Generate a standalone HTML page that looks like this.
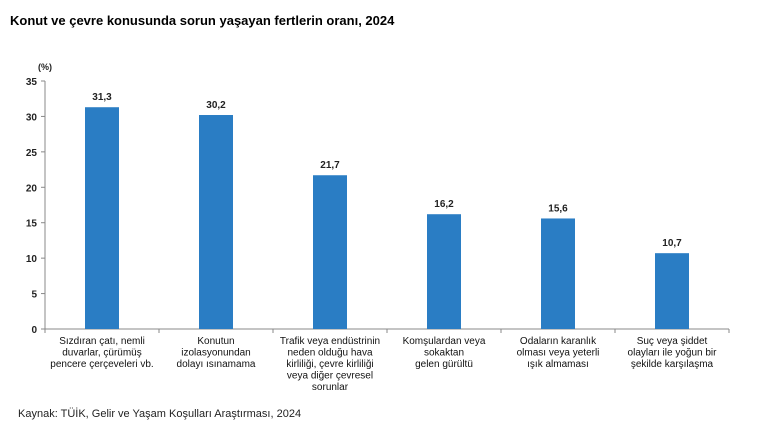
<!DOCTYPE html>
<html><head><meta charset="utf-8"><style>
body{margin:0;background:#fff;font-family:"Liberation Sans",Arial,sans-serif;}
svg text{font-family:"Liberation Sans",Arial,sans-serif;}
</style></head><body>
<svg id="c" width="769" height="435" xmlns="http://www.w3.org/2000/svg">
<text x="10" y="25" font-size="13" font-weight="bold" fill="#000">Konut ve çevre konusunda sorun yaşayan fertlerin oranı, 2024</text>
<text x="38" y="70" font-size="9" font-weight="bold" fill="#222">(%)</text>
<text x="18" y="417" font-size="11" fill="#222">Kaynak: TÜİK, Gelir ve Yaşam Koşulları Araştırması, 2024</text>
<g id="g"></g>
</svg>
<script>
const categories=[
["Sızdıran çatı, nemli","duvarlar, çürümüş","pencere çerçeveleri vb."],
["Konutun","izolasyonundan","dolayı ısınamama"],
["Trafik veya endüstrinin","neden olduğu hava","kirliliği, çevre kirliliği","veya diğer çevresel","sorunlar"],
["Komşulardan veya","sokaktan","gelen gürültü"],
["Odaların karanlık","olması veya yeterli","ışık almaması"],
["Suç veya şiddet","olayları ile yoğun bir","şekilde karşılaşma"]];
const values=[31.3,30.2,21.7,16.2,15.6,10.7];
const yTicks=[0,5,10,15,20,25,30,35];
const NS="http://www.w3.org/2000/svg";
const g=document.getElementById('g');
const x0=45,x1=729,yBase=329,yTop=81,yMax=35;
const band=(x1-x0)/categories.length;
const y=v=>yBase-(v/yMax)*(yBase-yTop);
const xc=i=>x0+band*(i+0.5);
function mk(t,a){const e=document.createElementNS(NS,t);for(const k in a)e.setAttribute(k,a[k]);g.appendChild(e);return e;}
const ya=mk('line',{x1:x0,y1:yTop,x2:x0,y2:yBase,stroke:'#888'});


const xa=mk('line',{x1:x0,y1:yBase,x2:x1,y2:yBase,stroke:'#888'});


yTicks.forEach(t=>{
 mk('line',{x1:x0-4,y1:y(t),x2:x0,y2:y(t),stroke:'#888'});
 const tx=mk('text',{x:x0-8,y:y(t)+4,'font-size':10,'font-weight':'bold','text-anchor':'end',fill:'#222'});
 tx.textContent=t;
 
 
});
for(let i=0;i<=categories.length;i++){mk('line',{x1:x0+band*i,y1:yBase,x2:x0+band*i,y2:yBase+4,stroke:'#888'});}
values.forEach((v,i)=>{
 const r=mk('rect',{x:xc(i)-17,y:y(v),width:34,height:yBase-y(v),fill:'#2a7dc4'});
 
 
 const l=mk('text',{x:xc(i),y:y(v)-7,'font-size':10,'font-weight':'bold','text-anchor':'middle',fill:'#222'});
 l.textContent=v.toFixed(1).replace('.',',');
 
 
 categories[i].forEach((ln,j)=>{
  const c=mk('text',{x:xc(i),y:yBase+15+j*11.5,'font-size':10,'text-anchor':'middle',fill:'#111'});
  c.textContent=ln;
  
  
 });
});
</script>
</body></html>
